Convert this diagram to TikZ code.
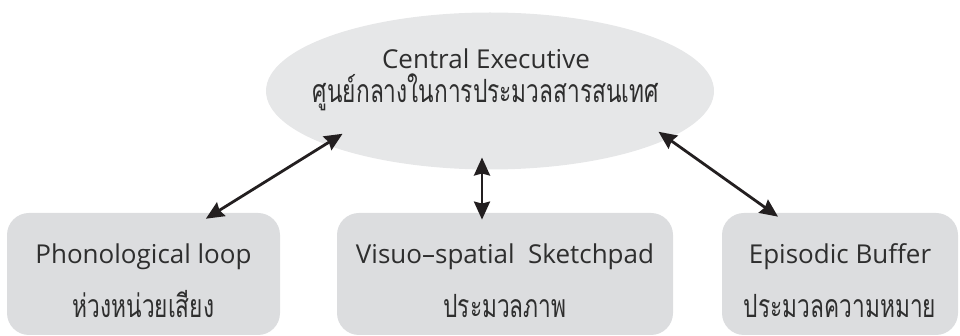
\documentclass[tikz,border=0pt]{standalone}
\usepackage{fontspec}
\newfontfamily\thaifont[Script=Thai,FakeStretch=0.71]{Loma}
\newfontfamily\latinfont{Open Sans}
\usetikzlibrary{shapes.geometric}
\usetikzlibrary{arrows.meta}
\usetikzlibrary{positioning}
\definecolor{ellgray}{HTML}{E6E7E8}
\definecolor{boxgray}{HTML}{DCDDDF}
\definecolor{txtgray}{HTML}{2E2E2E}
\definecolor{arrblack}{HTML}{231F20}
\newcommand{\enline}[1]{{\latinfont #1}}
\newcommand{\thline}[1]{{\thaifont\fontsize{16}{17}\selectfont #1}}
\newcommand{\boxtext}[2]{\enline{\rule{0pt}{16.4pt}#1}\\[3.5pt]\thline{#2}}

\begin{document}
\begin{tikzpicture}[x=0.5pt,y=-0.5pt,
  membox/.style={rectangle,rounded corners=11pt,fill=boxgray,draw=none,minimum height=61pt,
    align=center,text=txtgray,font={\fontsize{13}{23.5}\selectfont}},
  link/.style={{Stealth[length=9pt,width=8pt,inset=1pt]}-{Stealth[length=9pt,width=8pt,inset=1pt]},
    line width=1.4pt,draw=arrblack}]
\useasboundingbox (0,0) rectangle (960,336);

% central executive
\node[ellipse,fill=ellgray,minimum width=224pt,minimum height=78.5pt] (exec) at (490,91) {};
\node[align=center,text=txtgray,font={\fontsize{13}{17}\selectfont}] (execlbl) at (486,80)
  {\enline{Central Executive}\\\thline{ศูนย์กลางในการประมวลสารสนเทศ}};

% slave systems
\node[membox,minimum width=136.5pt] (phon) at (143.5,274)
  {\boxtext{Phonological loop}{ห่วงหน่วยเสียง}};
\node[membox,minimum width=168pt] (vis) at (505,274)
  {\boxtext{Visuo–spatial\ \ Sketchpad}{ประมวลภาพ}};
\node[membox,minimum width=118pt] (epi) at (840,274)
  {\boxtext{Episodic Buffer}{ประมวลความหมาย}};

% links
\draw[link,shorten <=-5.8pt,shorten >=-10.2pt] ([xshift=36.1pt]phon.north) -- (exec.198);
\draw[link,shorten <=-3.5pt,shorten >=-6.2pt] ([xshift=-11.5pt]vis.north) -- ([xshift=-4pt]exec.south);
\draw[link,shorten <=-3.5pt,shorten >=-6.1pt] ([xshift=-33.85pt]epi.north) -- (exec.345);

\end{tikzpicture}
\end{document}
